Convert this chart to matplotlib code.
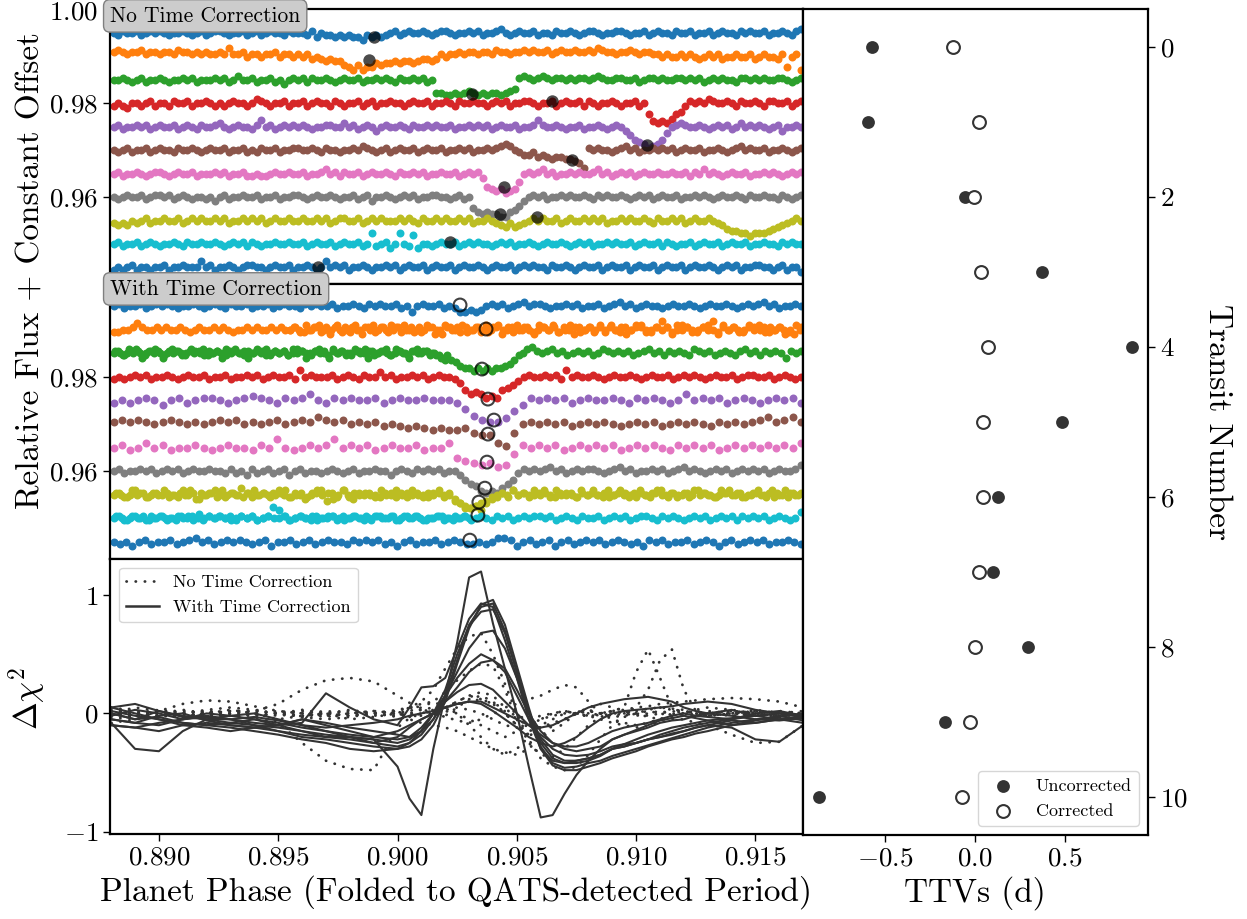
import numpy as np
import matplotlib
matplotlib.use("Agg")
import matplotlib.pyplot as plt
from matplotlib.lines import Line2D

plt.rcParams["font.family"] = ["cmr10", "DejaVu Serif"]
plt.rcParams["mathtext.fontset"] = "cm"
plt.rcParams["axes.formatter.use_mathtext"] = True
plt.rcParams["axes.unicode_minus"] = True
plt.rcParams["axes.linewidth"] = 1.6

# ---------------------------------------------------------------- data
transit_number = list(range(11))
ttv_uncorrected = [-0.571, -0.594, -0.052, 0.375, 0.874, 0.484, 0.128, 0.100, 0.295, -0.163, -0.868]
ttv_corrected = [-0.119, 0.024, -0.006, 0.037, 0.072, 0.045, 0.045, 0.022, 0.000, -0.028, -0.074]

row_offsets = [0.995, 0.990, 0.985, 0.980, 0.975, 0.970, 0.965, 0.960, 0.955, 0.950, 0.945]
flux_step = 0.00046         # one hex digit step in the coded light curves ('A' = row offset)

top_phase_range = (0.8881, 0.9169)
top_rows = [
    "A9BAAB9ABA BA9AABA9AB 9ABBA9AAB9 AB9ABAA9BA AA9B8A9989 8988798989 AB9ABAABA9 ABBA9AABAB 9AABCA9ABA AB9AA9BAAB A9ABBA9AAB BA9AAB9ABA A9BAAB9AAB 9ABAA9BABA AB9AABA9BC",
    "CDCBCCDBCC BCCBDCCBCB CBBCBEBBCA BBABBCABBA BAB9A98988 6546455767 7878878998 9BABBCBCCB CCBDCCBCCD CDCCDBCDCC DCCDCEDCCB CCDCBCCBBA BAABABA9AB AB9AABAAB9 ABAA9B5AB4",
    "AABA9AB9AA BA9AABAB9A AABAB9ACAA B9AAB9A8AB AB9BAABA9A BAAB9AABAB A9BAABAB9A 4433434543 43443456BC BABCBABBAB ABBABCBAAB BAAB9ABBAB AABBABAB9A BABAA9BBAB ABAABBA9AB",
    "9A98AA9AB9 AA9BAAB9AA BA9A9ABAA9 ACBA9AAB9A AB9ABAA9BA 9AAB9AB9AA BAA9ABAAB9 AABA9BAABA A9ABAB9AAB BA9AAB9ABA AB9BA9AABA 9AAB9A5212 13569BABAC BAABA9BAAB A9BBAAB9AB",
    "AB9AABAB9A BAAB9ABA9B AABCA9ABAA 9BDAB9ABAB ABA9AABBAA CAB9ABA8AB AABA9BAABA BAAB9AABAB AB9ABAAB9A ABDBAABA9A AB9AABA9AB A864320124 7ABCBAABA9 ABAB9ACABA BA9AB8AABA",
    "A9AB9AAB9A BAA9BAABA9 ABAAB9AAB9 A9BAAB9AAB BAABA9BAA9 AABACBA9AB 9ABAAB9ABA AB9AABAB9A ABABCDCA98 8978767766 542BABAA9A BCAB9AABAB AB9ABAAB9A ABA9ABCABA AB9AABA9AB",
    "AB9AABA9AB BA9ABAAB9A AABAB9AAB9 9A99ABAABA AB9AABCAB9 BAAB9ABAAB A9BAABAB9A ABAAB9ABAB 843231236A BABCAB9AAB ABAABCAB9A BAB9ABAABA ABAAB9BACA BA9ABAAB9A ABABA9ABAB",
    "A9ABAAB9AB BAB9ABA9AA 9A8AB9AABA AB9AAB9AAB BA9ABAABA9 AAB9AB8AAB A9ABAB9AAB BAA9AB9A53 2322113468 ABAB9AABAB AABA9BABAA BA9ABAB9AB AAB9AABABA 9ABAABA9BA ABAA9BA9AB",
    "9898A9AB9A ABAAB9ABAB AABAB9AABA BAB9ABAABA ABAABAB9AB BAAB9ABABA AABABA9BAA BABAABAB9A ABA9879789 ABABAAB9AB AABABAB9AA BABAABA9BA ABAB9ABAAB A986554434 4456789ABA",
    "AB9AAB9ABA 9AABA9BAAB AABA9ABAB9 BA9AABAABA AB9ABAAB9A BAAB9AF9AB 8AFA9E8AA9 ABAAB9ABAB AA9ABAB9AA BA9ABAABA9 ABAB9AABAB AAB9ABAAB9 BA9AAB9ABA AB9ABAAB9A ABAA9BABAA",
    "9A9AB9AA9A AB9AABAAAD AB9AABA9AB BAA9ABAAB9 AABA9ADABA B9AABA9AAB AB9ABAAB9A BAAB9ABAAB A9ABAAB9AB ABAA9BAABA 9ABAAB9ABA AB9ABAAB9A BAAB9ABAAB A9ABAB9AAB BAA9AB9AA8",
]

mid_blue0 = "AB9AAB9ABA BA9AABA9AB A9BAAB9AAB 9ABAA9BABA AB9AABA9BA BAAB9A7ABA AB9A977878 ABAB9ABCAB BA9AABAB9A AB9ABCAB9A BAA9ABAABA 9ABAABA9AB ABCAB9AABA"
mid_orange_a = "99AABDBAAB ABAABA9ABA ABABA9AABA BAABABAA"
mid_orange_b1 = "AB9CAB9BAC 9ABA8BCAB9 ABCA9BAB8A CBA9BAB9CA B8ABCAB9AB AC9BA8BAB9 CABA9BACB9 ABEB8CAB9A BCA9BAB9AC BA9BAB8ACB"
mid_orange_b2 = "BA9ABCA8BA B9CABA9BAC B9ABA9CBA8 BABC9ABA9B CAB9ABA8CB AB9ACB9ABA B9CAB8ABCA 9BAB9ACBA9 BAE8CABA9B ACB9ABA98A"
mid_green_l1 = "AB9ABCA9BA B8ACBA9BAB C9ABA9BCAB 8ABAC9BAB9 ACBA9BAB8C ABA9BACB9A BA9CBA8BAB BA987"
mid_green_l2 = "BA9CAB8ABC A9BAB9ACBA 9BAB8CABA9 BACB9ABAB9 CAB8ABCA9B AB9ACBA8BA BC9ABA9BCA B9A98"
mid_green_dip = "97643323232334579A"
mid_green_r = "CDBABCAB9A BAB9ACBABA B9ABCAB9BA BA9CBAB9AB A9BCAB9BAB A8BAB"
mid_red = "9A9ABAB9AA BA9ABAAB9A AB9AABAB9A BAAB9DABAA AB9ABA9BAA CAB9AABAB9 ABAA974232 0104568ABA ABAB9DABAA BA9ABAABA9 ABAAB9ABAB A9ABAAB9AB BAAB9ABA9A"
mid_purple = "9A9ABA8AB9 ABBA9ABCBA 9BABDA9BAB AAB9ABAABA AA96310025 8BABAB9ABA ABA9BABA9A DABAB9ABA9 ABAB9"
mid_brown = "BCBCBABCBA BABCBCABAB CABCBDCBCA BAB9A98987 8778655106 ABABAB9ABA BA9ABAB9AB ABA9BABABC DBCDB"
mid_pink = "AB9ACAB9AA BA9ABAA9BA EA9ABABEAB AB9ABAAB9A AC54323127 BABAB9ABAB AB9ABABA9B ABAB9ABABA BABAC"
mid_gray = "AB9AABAB9A BAB9ABAABA A9B9A8B9AB 9AB8AB9AA9 ABA9AB9AAB AA8ABA9BAB AB9AA86431 0102469BAB ABCAB9ABAB BA9ABCAB9A ABAB9ABCAB A9ABAB9ABA BAB9ABAABD"
mid_olive_1 = "AB9ACB9ABA BA9CAB8ABC A9BADB9ABA BCA9BA8ABC 7B9CA8BABA 9BACB9ABA9 BCAB865456 79AB9CABAC AB9CABA9BA CAB9ACBA9B ABCA9BAB9C ABA9CBAB9A BCAB9ACBAB"
mid_olive_2 = "BA9CAB9BAC 9ABAC8BAB9 CABA9BCAB9 ABC9AB9BCA B8AC9BABA9 CAB9ABCA9B AB9A764453 689BACAB9A BCA9BAB9CA BA9CABA9BC A9BCAB9ABA CBA9ABCAB9 ABA9CBA9BA"
mid_cyan_1 = "AB9ABA9BAB 9ABAB9CABA BA9ABAB9AB FAB9ABA9BA AB9BABA9AB BAB9ABAB9A AB9ABAB9AB A9BAB9ABAB BAB9ABA9BA AB9ABAB9AB BA9BABA9AB AB9ABAB9BA BAB9ABA9AD"
mid_cyan_2 = "BA9BAB9ABA A9BABA9BAB AB9BAB9ABA EB9ABAB9AB BA9ABAB9BA AB9BABA9AB BA9ABA"
mid_blue10 = "A9A8AB9AAB 9ABCAB9ABA BA9AB8AAB9 AB9ABAA9BA BAB9A8AB9A AB9ABA99A9 ACCB8AB9AB 8AB9ABAB9A BA9A8BAB9A AB9ABA8AB9 ABAB9AABA9"

# (phase start, phase end, coded fluxes) for each transit row of the corrected panel
mid_rows = [
    [(0.8881, 0.9169, mid_blue0)],
    [(0.8881, 0.8955, mid_orange_a), (0.8955, 0.9169, mid_orange_b1), (0.89565, 0.91685, mid_orange_b2)],
    [(0.8881, 0.9020, mid_green_l1), (0.88818, 0.90192, mid_green_l2), (0.90207, 0.90526, mid_green_dip), (0.90542, 0.9169, mid_green_r)],
    [(0.8881, 0.9169, mid_red)],
    [(0.8881, 0.9169, mid_purple)],
    [(0.8881, 0.9169, mid_brown)],
    [(0.8881, 0.9169, mid_pink)],
    [(0.8881, 0.9169, mid_gray)],
    [(0.8881, 0.9169, mid_olive_1), (0.88821, 0.91679, mid_olive_2)],
    [(0.8881, 0.9169, mid_cyan_1), (0.88821, 0.9030, mid_cyan_2)],
    [(0.8881, 0.9169, mid_blue10)],
]

top_marker_phase = [0.89902, 0.89881, 0.90313, 0.90646, 0.91044, 0.90730, 0.90447, 0.90429, 0.90585, 0.90220, 0.89668]
top_marker_flux = [0.99417, 0.98924, 0.98211, 0.98053, 0.97104, 0.96783, 0.96212, 0.95642, 0.95569, 0.95034, 0.94499]
mid_marker_phase = [0.90262, 0.90371, 0.90354, 0.90379, 0.90404, 0.90379, 0.90375, 0.90366, 0.90341, 0.90337, 0.90303]
mid_marker_flux = [0.99521, 0.99012, 0.98163, 0.97527, 0.97082, 0.96785, 0.96191, 0.95639, 0.95343, 0.95067, 0.94537]

chi_phase = [0.888, 0.889, 0.890, 0.891, 0.892, 0.893, 0.894, 0.895, 0.896, 0.897, 0.898, 0.899, 0.900,
             0.9005, 0.901, 0.9015, 0.902, 0.9025, 0.903, 0.9035, 0.904, 0.9045, 0.905, 0.9055, 0.906,
             0.9065, 0.907, 0.9075, 0.908, 0.9085, 0.909, 0.9095, 0.910, 0.9105, 0.911, 0.9115, 0.912,
             0.9125, 0.913, 0.914, 0.915, 0.916, 0.917]

chi_solid = [
    [-0.05,-0.08,-0.02,0.0,-0.06,-0.1,-0.12,-0.15,-0.18,-0.2,-0.2,-0.22,-0.45,-0.72,-0.86,-0.3,0.15,0.6,1.15,1.2,0.76,0.38,0.0,-0.45,-0.88,-0.86,-0.68,-0.52,-0.4,-0.3,-0.22,
     -0.18,-0.14,-0.1,-0.06,-0.04,-0.02,-0.04,-0.06,-0.1,-0.06,-0.02,-0.06],
    [0.0,-0.05,0.02,-0.03,-0.05,-0.08,-0.1,-0.15,-0.2,-0.22,-0.25,-0.28,-0.3,-0.28,-0.22,-0.1,0.1,0.42,0.72,0.92,0.96,0.75,0.4,0.05,-0.28,-0.42,-0.46,-0.45,-0.42,-0.4,-0.36,
     -0.33,-0.3,-0.27,-0.24,-0.21,-0.18,-0.15,-0.12,-0.08,-0.05,-0.06,-0.04],
    [-0.1,-0.12,-0.08,-0.05,-0.03,-0.05,-0.08,-0.1,-0.08,0.17,0.05,-0.05,-0.1,0.05,0.22,0.23,0.3,0.55,0.8,0.93,0.9,0.62,0.3,-0.05,-0.3,-0.4,-0.42,-0.4,-0.38,-0.35,-0.3,
     -0.28,-0.25,-0.22,-0.18,-0.15,-0.12,-0.1,-0.08,-0.05,0.0,0.02,-0.02],
    [0.05,0.0,-0.05,-0.08,-0.1,-0.12,-0.15,-0.18,-0.22,-0.25,-0.3,-0.32,-0.3,-0.25,-0.18,-0.05,0.15,0.45,0.75,0.9,0.93,0.7,0.35,0.0,-0.3,-0.44,-0.48,-0.48,-0.45,-0.42,-0.38,
     -0.35,-0.32,-0.28,-0.25,-0.22,-0.2,-0.17,-0.15,-0.1,-0.08,-0.05,-0.08],
    [-0.02,0.03,0.0,-0.05,-0.02,-0.05,-0.1,-0.12,-0.15,-0.18,-0.2,-0.22,-0.25,-0.22,-0.15,0.0,0.2,0.5,0.74,0.86,0.88,0.68,0.35,0.02,-0.25,-0.38,-0.42,-0.42,-0.4,-0.36,-0.3,
     -0.26,-0.22,-0.18,-0.15,-0.12,-0.1,-0.08,-0.06,-0.04,-0.02,0.0,-0.03],
    [-0.08,-0.3,-0.32,-0.15,-0.05,-0.02,0.0,-0.05,-0.1,-0.15,-0.2,-0.25,-0.28,-0.25,-0.15,0.0,0.15,0.3,0.42,0.5,0.45,0.35,0.15,-0.05,-0.2,-0.3,-0.35,-0.36,-0.35,-0.32,-0.28,
     -0.26,-0.25,-0.22,-0.2,-0.18,-0.15,-0.12,-0.1,-0.12,-0.22,-0.24,-0.1],
    [0.0,-0.05,-0.03,-0.08,-0.1,-0.08,-0.05,-0.08,-0.12,-0.15,-0.18,-0.2,-0.15,-0.1,-0.05,0.0,0.1,0.18,0.24,0.25,0.2,0.1,0.0,-0.1,-0.18,-0.25,-0.28,-0.28,-0.25,-0.2,-0.15,
     -0.12,-0.1,-0.08,-0.05,-0.02,0.0,-0.02,-0.03,-0.05,-0.02,0.0,-0.02],
    [0.02,-0.02,-0.05,-0.1,-0.12,-0.15,-0.12,-0.1,-0.05,-0.08,-0.12,-0.15,-0.18,-0.2,-0.15,-0.05,0.1,0.22,0.35,0.43,0.45,0.38,0.2,0.0,-0.15,-0.25,-0.3,-0.32,-0.3,-0.28,-0.22,
     -0.18,-0.15,-0.12,-0.08,-0.06,-0.05,-0.02,0.0,0.03,-0.02,-0.05,-0.03],
    [-0.05,-0.08,-0.1,-0.05,0.0,-0.02,-0.05,-0.1,-0.15,-0.2,-0.22,-0.25,-0.2,-0.12,-0.05,0.0,0.05,0.08,0.1,0.1,0.05,0.0,-0.05,-0.1,-0.12,-0.1,-0.05,0.0,0.05,0.08,0.1,
     0.12,0.13,0.14,0.12,0.1,0.05,0.02,0.0,-0.02,-0.05,-0.03,0.0],
    [0.05,0.08,0.02,-0.02,-0.05,-0.05,-0.03,-0.06,-0.1,-0.12,-0.1,-0.08,-0.05,-0.02,0.0,0.02,0.05,0.08,0.1,0.08,0.02,-0.05,-0.12,-0.2,-0.25,-0.28,-0.25,-0.2,-0.12,-0.05,0.0,
     0.02,0.03,0.04,0.05,0.06,0.08,0.09,0.1,0.08,0.03,0.0,-0.02],
    [-0.1,-0.12,-0.15,-0.1,-0.08,-0.1,-0.12,-0.1,-0.05,-0.1,-0.15,-0.2,-0.22,-0.2,-0.12,0.0,0.15,0.35,0.55,0.68,0.7,0.55,0.3,0.02,-0.22,-0.35,-0.4,-0.4,-0.38,-0.35,-0.3,
     -0.28,-0.25,-0.22,-0.2,-0.17,-0.15,-0.12,-0.1,-0.06,-0.08,-0.05,-0.02],
]

chi_dotted = [
    [0.0,0.05,0.02,-0.03,0.0,0.03,0.0,-0.05,-0.02,0.0,-0.05,-0.03,0.0,0.05,0.1,0.2,0.38,0.55,0.65,0.68,0.5,0.25,0.0,-0.22,-0.38,-0.45,-0.48,-0.45,-0.35,-0.22,-0.1,
     -0.03,0.0,0.03,0.05,0.03,0.02,0.0,-0.02,0.0,0.03,0.0,-0.02],
    [0.0,-0.02,0.0,0.02,0.0,0.02,0.02,0.08,0.2,0.28,0.3,0.27,0.15,0.09,0.04,0.0,-0.03,-0.06,-0.08,-0.05,0.0,0.02,-0.02,-0.05,-0.02,0.0,0.02,0.0,-0.03,0.0,0.02,
     0.0,-0.02,0.0,0.02,0.0,-0.02,0.0,0.02,0.0,-0.02,0.0,0.02],
    [-0.05,-0.02,0.02,0.08,0.11,0.1,0.06,0.02,0.0,-0.02,0.0,0.02,0.0,-0.03,0.0,0.02,0.05,0.1,0.15,0.18,0.15,0.05,-0.05,-0.1,-0.12,-0.1,-0.05,0.0,0.02,0.0,-0.02,
     0.0,0.02,0.04,0.05,0.04,0.03,0.0,-0.02,0.0,0.02,0.0,-0.02],
    [0.02,0.0,-0.02,0.0,-0.03,-0.02,-0.04,-0.08,-0.25,-0.4,-0.47,-0.48,-0.12,-0.04,0.0,0.03,0.05,0.08,0.1,0.12,0.08,0.0,-0.1,-0.15,-0.12,-0.08,-0.05,0.0,0.03,0.0,-0.03,
     -0.02,0.0,0.02,0.0,-0.02,0.0,0.02,0.0,-0.02,0.0,0.02,0.0],
    [-0.02,0.0,0.03,0.0,-0.02,0.0,0.02,0.0,-0.03,0.0,0.02,0.0,-0.02,0.0,0.03,0.05,0.02,0.0,-0.05,-0.1,-0.15,-0.2,-0.15,-0.1,-0.05,-0.02,0.0,0.0,0.02,0.0,0.02,
     0.05,0.35,0.54,0.3,0.05,0.0,-0.03,0.0,0.02,0.0,-0.02,0.0],
    [0.03,0.0,-0.03,0.0,0.02,0.0,-0.02,0.0,0.03,0.0,-0.02,0.0,0.02,0.05,0.08,0.1,0.05,0.0,-0.1,-0.2,-0.3,-0.35,-0.3,-0.2,-0.1,-0.05,0.0,0.02,0.0,-0.02,0.0,
     0.0,0.05,0.2,0.45,0.54,0.2,0.02,-0.02,0.0,0.02,0.0,-0.02],
    [0.0,-0.03,0.0,0.03,0.0,-0.02,0.0,0.02,0.0,-0.03,0.0,0.02,0.0,-0.02,0.0,0.02,0.05,0.1,0.15,0.12,0.08,0.05,0.08,0.12,0.15,0.2,0.24,0.22,0.1,0.0,-0.05,
     -0.08,-0.1,-0.08,-0.05,0.0,0.02,0.0,-0.02,0.0,0.02,0.0,-0.02],
    [0.02,0.0,-0.03,0.0,0.02,0.0,-0.02,0.0,0.02,0.0,-0.02,0.0,0.02,0.0,-0.02,0.0,0.03,0.05,0.03,0.0,-0.05,-0.1,-0.12,-0.1,-0.05,0.0,0.02,0.0,-0.02,0.0,0.02,
     0.03,0.05,0.06,0.08,0.09,0.1,0.11,0.12,0.13,0.12,0.1,0.05],
    [-0.03,0.0,0.02,0.0,-0.02,0.0,0.02,0.0,-0.02,0.0,0.03,0.0,-0.03,-0.05,-0.08,-0.1,-0.12,-0.15,-0.2,-0.25,-0.3,-0.33,-0.35,-0.3,-0.2,-0.1,-0.05,0.0,-0.02,-0.05,-0.08,
     -0.1,-0.12,-0.1,-0.08,-0.05,-0.05,-0.08,-0.1,-0.18,-0.25,-0.24,-0.1],
    [0.05,0.02,0.0,-0.03,0.0,0.02,0.0,-0.02,0.0,0.02,0.0,-0.02,0.0,0.02,0.05,0.1,0.18,0.28,0.36,0.42,0.4,0.2,-0.05,-0.25,-0.35,-0.37,-0.3,-0.2,-0.1,-0.03,0.0,
     0.02,0.0,-0.02,0.0,0.02,0.0,-0.02,0.0,0.02,0.0,-0.02,0.0],
    [-0.08,-0.05,-0.02,0.0,0.03,0.05,0.03,0.0,-0.03,-0.05,-0.03,0.0,0.03,0.05,0.03,0.0,-0.02,0.05,0.12,0.15,0.1,0.0,-0.1,-0.18,-0.2,-0.15,-0.08,0.0,0.05,0.08,0.05,
     0.02,0.0,-0.03,-0.05,-0.03,0.0,0.03,0.05,0.03,0.0,-0.03,0.0],
]

# ---------------------------------------------------------------- style
row_colors = ["C0", "C1", "C2", "C3", "C4", "C5", "C6", "C7", "C8", "C9", "C0"]
ink = "#333333"
tick_fs = 19.5
label_fs = 24


def coded_flux(code, offset):
    code = code.replace(" ", "")
    return np.array([offset + (int(ch, 16) - 10) * flux_step for ch in code])


fig = plt.figure(figsize=(12.47, 9.19), dpi=100)
ax1 = fig.add_axes([0.08821, 0.69097, 0.5555, 0.29891])
ax2 = fig.add_axes([0.08821, 0.39227, 0.5555, 0.29870])
ax3 = fig.add_axes([0.08821, 0.09249, 0.5555, 0.29978])
axr = fig.add_axes([0.64371, 0.09140, 0.2769, 0.89848])

# --- top: no time correction
for k, code in enumerate(top_rows):
    fl = coded_flux(code, row_offsets[k])
    ph = np.linspace(top_phase_range[0], top_phase_range[1], len(fl))
    ax1.scatter(ph, fl, s=33, color=row_colors[k], linewidths=0, zorder=2)
ax1.scatter(top_marker_phase, top_marker_flux, s=80, color="black", alpha=0.7,
            linewidths=0, zorder=3)

# --- middle: with time correction
for k, segs in enumerate(mid_rows):
    for p0, p1, code in segs:
        fl = coded_flux(code, row_offsets[k])
        ph = np.linspace(p0, p1, len(fl))
        ax2.scatter(ph, fl, s=33, color=row_colors[k], linewidths=0, zorder=2)
ax2.scatter(mid_marker_phase, mid_marker_flux, s=85, facecolors="none",
            edgecolors="black", linewidths=1.5, alpha=0.75, zorder=3)

for ax in (ax1, ax2):
    ax.set_xlim(0.88795, 0.91698)
    ax.tick_params(axis="x", bottom=False, labelbottom=False)
    ax.tick_params(axis="y", labelsize=tick_fs, length=5, width=1)
ax1.set_ylim(0.94145, 1.0001)
ax1.set_yticks([0.96, 0.98, 1.00])
ax2.set_ylim(0.94148, 0.99966)
ax2.set_yticks([0.96, 0.98])

box = dict(boxstyle="round,pad=0.3", fc="#cccccc", ec="#808080", lw=1.0)
ax1.text(0.0, 0.976, "No Time Correction", transform=ax1.transAxes, ha="left",
         va="center", fontsize=15.5, bbox=box, zorder=10)
ax2.text(0.0, 0.982, "With Time Correction", transform=ax2.transAxes, ha="left",
         va="center", fontsize=15.5, bbox=box, zorder=10)

# --- bottom: delta chi^2
dot_style = (0, (0.1, 3.2))
for curve in chi_dotted:
    ax3.plot(chi_phase, curve, color=ink, lw=2.0, ls=dot_style, dash_capstyle="round")
for curve in chi_solid:
    ax3.plot(chi_phase, curve, color=ink, lw=1.5)
ax3.set_xlim(0.88795, 0.91698)
ax3.set_ylim(-1.02, 1.31)
ax3.set_yticks([-1, 0, 1])
ax3.set_xticks([0.890, 0.895, 0.900, 0.905, 0.910, 0.915])
ax3.tick_params(labelsize=tick_fs, length=5, width=1)
ax3.set_xlabel("Planet Phase (Folded to QATS-detected Period)", fontsize=label_fs)
handles = [Line2D([], [], color=ink, lw=2.0, ls=dot_style, dash_capstyle="round",
                  label="No Time Correction"),
           Line2D([], [], color=ink, lw=1.8, label="With Time Correction")]
ax3.legend(handles=handles, loc="upper left", fontsize=13, handlelength=1.8)

# --- right: TTVs
axr.scatter(ttv_uncorrected, transit_number, s=85, color=ink, linewidths=0,
            label="Uncorrected", zorder=3)
axr.scatter(ttv_corrected, transit_number, s=85, facecolors="white",
            edgecolors=ink, linewidths=1.5, label="Corrected", zorder=3)
axr.set_xlim(-0.957, 0.963)
axr.set_ylim(10.5, -0.5)
axr.set_xticks([-0.5, 0.0, 0.5])
axr.set_yticks([0, 2, 4, 6, 8, 10])
axr.yaxis.tick_right()
axr.yaxis.set_label_position("right")
axr.tick_params(labelsize=tick_fs, length=5, width=1)
axr.set_xlabel("TTVs (d)", fontsize=label_fs)
axr.set_ylabel("Transit Number", fontsize=label_fs, rotation=270, labelpad=32)
axr.legend(loc="lower right", fontsize=13, scatterpoints=1)

fig.text(0.024, 0.706, "Relative Flux + Constant Offset", rotation=90,
         ha="center", va="center", fontsize=label_fs)
fig.text(0.022, 0.2405, r"$\Delta\chi^2$", rotation=90, ha="center",
         va="center", fontsize=label_fs)

fig.savefig("out.png", dpi=100)
